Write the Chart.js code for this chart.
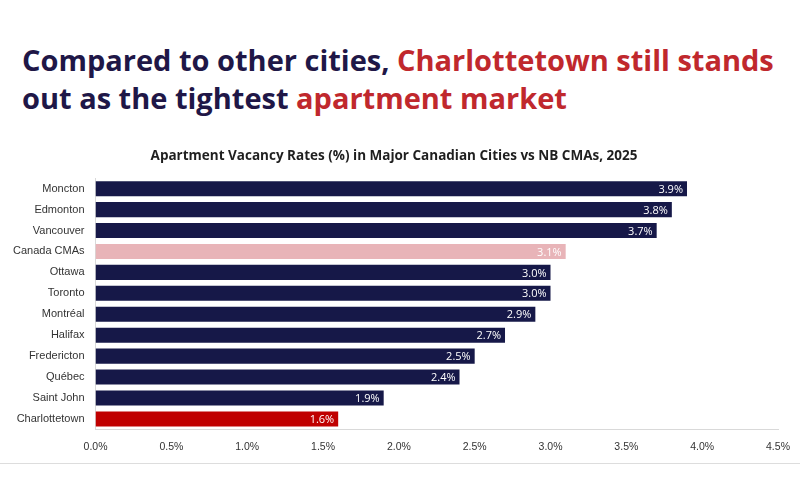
<!DOCTYPE html>
<html><head><meta charset="utf-8">
<script src="https://cdn.jsdelivr.net/npm/chart.js@4"></script>
<style>
body{margin:0;width:800px;height:500px;background:#fff;font-family:"Open Sans",sans-serif;position:relative;overflow:hidden}
h1{position:absolute;left:22px;top:41px;margin:0;font-size:29px;line-height:38px;font-weight:700;color:#1f1747}
h1 span{color:#c0282d}
#wrap{position:absolute;left:0;top:144px;width:800px;height:312px}
#rule{position:absolute;left:0;top:463px;width:800px;height:1px;background:#ddd}
</style></head><body>
<h1>Compared to other cities, <span>Charlottetown still stands</span><br>out as the tightest <span>apartment market</span></h1>
<div id="wrap"><canvas id="c"></canvas></div>
<div id="rule"></div>
<script>
const categories=["Moncton","Edmonton","Vancouver","Canada CMAs","Ottawa","Toronto","Montréal","Halifax","Fredericton","Québec","Saint John","Charlottetown"];
const values=[3.9,3.8,3.7,3.1,3.0,3.0,2.9,2.7,2.5,2.4,1.9,1.6];
const colors=categories.map(c=>c==="Canada CMAs"?"#e8b4b8":c==="Charlottetown"?"#c00000":"#161848");
const labelPlugin={id:"lbl",afterDatasetsDraw(ch){const ctx=ch.ctx;const m=ch.getDatasetMeta(0);ctx.save();ctx.font="11px 'Open Sans'";ctx.fillStyle="#fff";ctx.textAlign="right";ctx.textBaseline="middle";m.data.forEach((b,i)=>{ctx.fillText(values[i].toFixed(1)+"%",b.x-4,b.y+1);});ctx.restore();}};
new Chart(document.getElementById("c"),{type:"bar",data:{labels:categories,datasets:[{data:values,backgroundColor:colors,barPercentage:0.72,categoryPercentage:1}]},
options:{indexAxis:"y",responsive:true,maintainAspectRatio:false,animation:false,
layout:{padding:{left:10,right:22,bottom:0}},
plugins:{legend:{display:false},tooltip:{enabled:false},title:{display:true,text:"Apartment Vacancy Rates (%) in Major Canadian Cities vs NB CMAs, 2025",font:{size:13.5,weight:"bold",family:"Open Sans"},color:"#1f1f1f",padding:{top:4,bottom:14}}},
scales:{x:{min:0,max:4.5,ticks:{stepSize:0.5,callback:v=>v.toFixed(1)+"%",color:"#333",font:{size:10.5}},grid:{display:false},border:{display:true,color:"#d9d9d9"}},
y:{ticks:{color:"#333",font:{size:11}},grid:{display:false},border:{color:"#d9d9d9"}}}},
plugins:[labelPlugin]});
</script></body></html>
